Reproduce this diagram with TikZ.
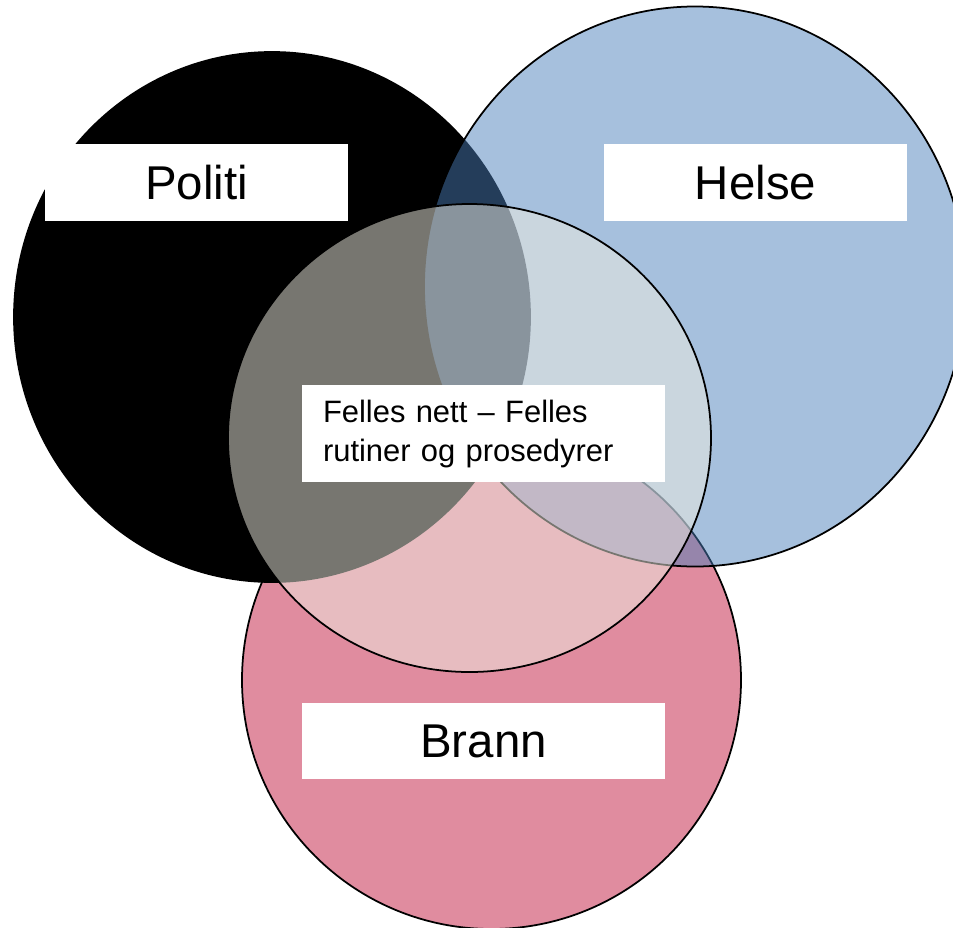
\documentclass[tikz,border=0pt]{standalone}
\usepackage{fontspec}
\setmainfont{Liberation Sans}
\definecolor{brann}{HTML}{E08C9F}
\definecolor{helse}{HTML}{4A7EB9}
\definecolor{felles}{HTML}{EEECE1}

\begin{document}
\begin{tikzpicture}[x=0.02cm,y=-0.02cm,
		sirkel/.style={line width=1pt},
		etikett/.style={fill=white,inner sep=0,minimum width=6.06cm,minimum height=1.54cm,font=\fontsize{27}{32}\selectfont}]
		\useasboundingbox (0,0) rectangle (953,927);
		\clip (0,0) rectangle (953,927);
		% sirkler
		\filldraw[sirkel,fill=brann] (491.5,680) ellipse[x radius=249.5,y radius=249];
		\filldraw[sirkel,fill=black] (272,317) ellipse[x radius=258,y radius=265];
		\filldraw[sirkel,fill=helse,fill opacity=.49] (695,286.5) ellipse[x radius=271,y radius=280];
		\filldraw[sirkel,fill=felles,fill opacity=.5] (469.5,438) ellipse[x radius=241.5,y radius=234];
		% etiketter
		\node[etikett](politi) at (196.5,182.5) {Politi};
		\node[etikett](helse) at (755.5,182.5) {Helse};
		\node[etikett,minimum width=7.26cm,minimum height=1.52cm](brann) at (483.5,741) {Brann};
		\node[fill=white,inner xsep=0.42cm,inner ysep=0,minimum height=1.94cm,text width=6.42cm,align=left,font=\fontsize{17.6}{22.2}\selectfont](felles) at (483.5,433.5) {Felles nett -- Felles\\rutiner og prosedyrer};
	\end{tikzpicture}
\end{document}
